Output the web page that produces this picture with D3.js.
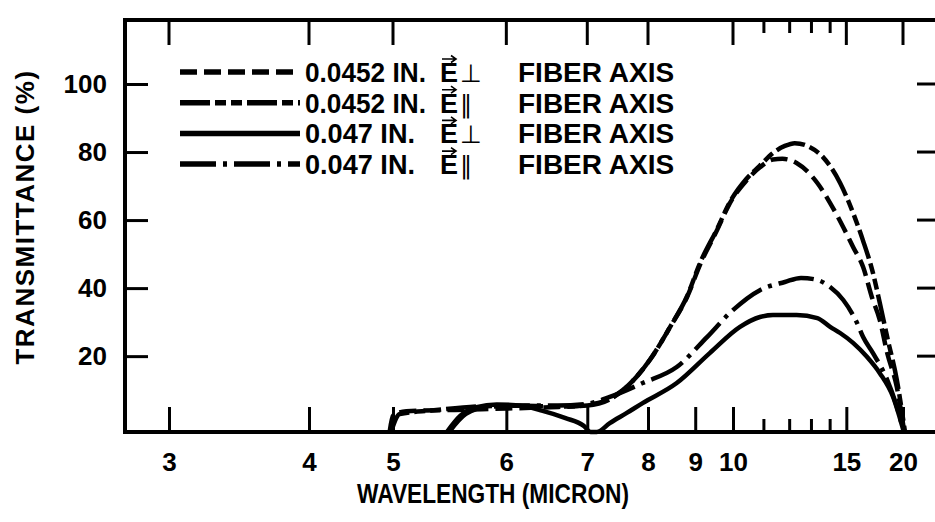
<!DOCTYPE html>
<html>
<head>
<meta charset="utf-8">
<script src="https://cdn.jsdelivr.net/npm/d3@7"></script>
<style>
  body { margin: 0; background: #fff; overflow: hidden; }
  text { font-family: "Liberation Sans", Arial, sans-serif; font-weight: bold; fill: #000; }
</style>
</head>
<body>
<div id="chart"></div>
<script>
// wavelength (micron) / transmittance (%)
var thin0452Perp = [[4.95,-2.3],[5.0,2.5],[5.1,3.8],[5.5,4.2],[6.0,4.6],[6.5,5.0],[6.85,5.3],[7.1,6.0],[7.34,7.5],[7.62,11],[8.04,19],[8.44,28.6],[8.81,37.4],[9.12,47],[9.55,57],[9.91,65],[10.4,71.5],[10.86,75.5],[11.33,77.8],[11.7,78],[12.3,76.8],[13.3,70.9],[14.0,65],[14.8,57.9],[15.46,52.1],[16.2,46.2],[16.9,37.4],[17.6,30.6],[18.3,20.9],[19.3,10.9],[20.15,-2.3]];
var thin0452Par = [[4.97,-2.3],[5.05,3],[5.3,4],[5.8,5.3],[6.2,5.4],[6.6,5.2],[7.0,5.5],[7.34,7.3],[7.62,11],[8.04,19],[8.44,28.6],[8.81,37.6],[9.12,47.5],[9.55,57.3],[9.91,65.3],[10.4,72],[10.86,76],[11.33,79.7],[11.8,81.8],[12.22,82.6],[12.9,81.5],[13.6,78.5],[14.6,70.9],[15.46,62.1],[16.18,54.1],[17.0,44.4],[17.6,35.6],[18.3,25.6],[19.3,13],[20.24,-2.3]];
var thick047Perp = [[5.43,-2.3],[5.55,2.5],[5.7,5],[5.9,5.8],[6.1,5.6],[6.4,4.0],[6.7,1.8],[6.95,-0.5],[7.05,-2.3],[7.14,-2.3],[7.34,0.3],[7.62,3.3],[7.9,6.2],[8.58,12.1],[9.36,20.9],[10.21,28.6],[10.86,31.5],[11.33,32.1],[12.3,32.1],[13.3,31.2],[14.0,28.6],[14.6,26.8],[15.46,23.9],[16.5,19.8],[17.6,15],[18.9,8],[20.1,-2.3]];
var thick047Par = [[5.45,-2.3],[5.6,3],[5.8,5],[6.2,5.5],[6.6,5.5],[7.0,6],[7.34,8],[7.9,12.1],[8.58,16.8],[9.29,25.6],[9.91,32.7],[10.86,39.4],[11.8,41.8],[12.5,43],[13.3,42.4],[14.0,40.3],[14.8,36.5],[15.75,29.7],[16.2,25.6],[17.0,20.9],[18.3,13],[19.2,6],[20.1,-2.3]];

var xMajor = [3,4,5,6,7,8,9,10,15,20];
var xMinor = [11,12,13,14];
var xTopMajor = [3,4,5,6,7,8,10,15,20];
var yTicks = [20,40,60,80,100];

var series = [
  {data: thin0452Perp, dash: "17,7", thick: "0.0452 IN.", sym: "\u22A5"},
  {data: thin0452Par, dash: "30,5,11,5,11,5", thick: "0.0452 IN.", sym: "\u2225"},
  {data: thick047Perp, dash: null, thick: "0.047 IN.", sym: "\u22A5"},
  {data: thick047Par, dash: "36,7,4,7", thick: "0.047 IN.", sym: "\u2225"}
];

var width = 935, height = 522;
var margin = {top: 20, right: -5, bottom: 90, left: 125};

var svg = d3.select("#chart").append("svg")
  .attr("width", width)
  .attr("height", height);

// spectrometer scale: linear in wavenumber, expanded below 2000 cm-1
var wn = d3.scaleLinear().domain([10000/3, 2000, 500]).range([169, 393, 903]);
var x = function(l) { return wn(10000 / l); };
var y = d3.scaleLinear().domain([-2.3, 100]).range([height - margin.bottom, 84]);

var x0 = margin.left, x1 = width - margin.right, yTop = margin.top, yBot = height - margin.bottom;

// frame (right side falls outside the picture)
svg.append("path")
  .attr("d", `M${x1},${yTop}H${x0}V${yBot}H${x1}`)
  .attr("fill", "none").attr("stroke", "#000").attr("stroke-width", 4);

// bottom axis ticks + labels
var xb = d3.axisBottom(d3.scaleLinear().domain([0, width]).range([0, width]))
  .tickValues(xMajor.map(x)).tickSize(-25).tickFormat(function(d, i) { return xMajor[i]; }).tickPadding(21);
var gb = svg.append("g").attr("transform", `translate(0,${yBot})`).call(xb);
gb.select(".domain").remove();
gb.selectAll("line").attr("stroke-width", 3);
gb.selectAll("text").attr("font-size", 26).style("font-family", "Liberation Sans").style("font-weight", "bold");

svg.append("g").selectAll("line.minb")
  .data(xMinor).enter().append("line")
  .attr("x1", d => x(d)).attr("x2", d => x(d))
  .attr("y1", yBot).attr("y2", yBot - 13)
  .attr("stroke", "#000").attr("stroke-width", 3);

// top ticks
svg.append("g").selectAll("line.majt")
  .data(xTopMajor).enter().append("line")
  .attr("x1", d => x(d)).attr("x2", d => x(d))
  .attr("y1", yTop).attr("y2", yTop + 25)
  .attr("stroke", "#000").attr("stroke-width", 3);
svg.append("g").selectAll("line.mint")
  .data(xMinor).enter().append("line")
  .attr("x1", d => x(d)).attr("x2", d => x(d))
  .attr("y1", yTop).attr("y2", yTop + 13)
  .attr("stroke", "#000").attr("stroke-width", 3);

// left axis
var yl = d3.axisLeft(y).tickValues(yTicks).tickSize(-23).tickPadding(18);
var gl = svg.append("g").attr("transform", `translate(${x0},0)`).call(yl);
gl.select(".domain").remove();
gl.selectAll("line").attr("stroke-width", 3);
gl.selectAll("text").attr("font-size", 26).style("font-family", "Liberation Sans").style("font-weight", "bold");

// right ticks
svg.append("g").selectAll("line.rt")
  .data(yTicks).enter().append("line")
  .attr("x1", x1).attr("x2", x1 - 23)
  .attr("y1", d => y(d)).attr("y2", d => y(d))
  .attr("stroke", "#000").attr("stroke-width", 3);

// curves
var line = d3.line()
  .x(d => x(d[0]))
  .y(d => y(d[1]))
  .curve(d3.curveMonotoneX);

svg.append("g").selectAll("path.curve")
  .data(series).enter().append("path")
  .attr("d", d => line(d.data))
  .attr("fill", "none")
  .attr("stroke", "#000")
  .attr("stroke-width", 4.5)
  .attr("stroke-dasharray", d => d.dash);

// legend
var leg = svg.append("g").selectAll("g.leg")
  .data(series).enter().append("g")
  .attr("transform", (d, i) => `translate(0,${72 + i * 30.7})`);

leg.append("line")
  .attr("x1", 180).attr("x2", 300)
  .attr("stroke", "#000").attr("stroke-width", 5.5)
  .attr("stroke-dasharray", d => d.dash);
leg.append("text")
  .attr("x", 305).attr("y", 10)
  .attr("font-size", 27)
  .attr("textLength", d => d.thick.length > 9 ? 121 : 110).attr("lengthAdjust", "spacingAndGlyphs")
  .text(d => d.thick);
leg.append("text")
  .attr("x", 440).attr("y", 10)
  .attr("font-size", 27)
  .text("E");
// vector arrow over the E
leg.append("path")
  .attr("d", "M442,-13H455M451,-16.5L456,-13L451,-9.5")
  .attr("fill", "none").attr("stroke", "#000").attr("stroke-width", 1.6);
leg.append("text")
  .attr("x", 460).attr("y", 10)
  .attr("font-size", 25)
  .style("font-family", "DejaVu Sans").style("font-weight", "normal")
  .text(d => d.sym);
leg.append("text")
  .attr("x", 518).attr("y", 10)
  .attr("font-size", 28)
  .text("FIBER AXIS");

// axis titles
svg.append("text")
  .attr("x", 493).attr("y", 503)
  .attr("text-anchor", "middle")
  .attr("font-size", 28)
  .attr("textLength", 272).attr("lengthAdjust", "spacingAndGlyphs")
  .text("WAVELENGTH (MICRON)");

svg.append("text")
  .attr("transform", "translate(34,217) rotate(-90)")
  .attr("text-anchor", "middle")
  .attr("font-size", 26)
  .attr("letter-spacing", 1.5)
  .text("TRANSMITTANCE (%)");
</script>
</body>
</html>
